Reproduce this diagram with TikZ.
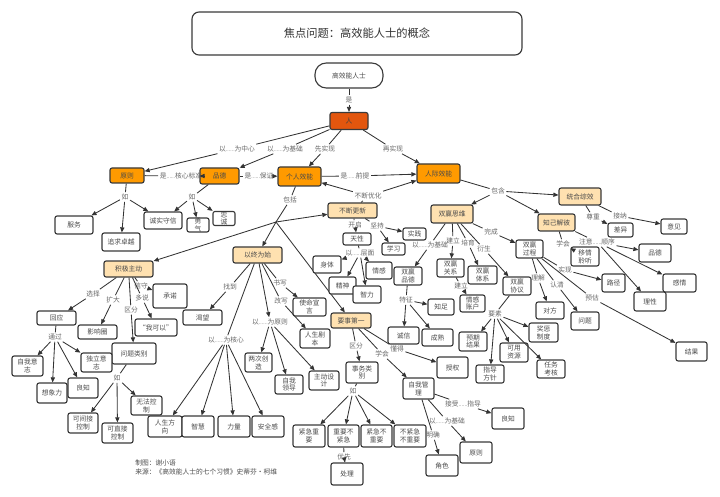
\documentclass[tikz,border=0pt]{standalone}
\usepackage{fontspec}
\setmainfont{Noto Sans CJK SC}
\usepackage{xcolor}
\usepackage{graphicx}
\usetikzlibrary{arrows.meta, positioning}
\definecolor{rencol}{HTML}{E3560E}
\definecolor{keyorange}{HTML}{FF9A00}
\definecolor{lightorange}{HTML}{FFE1B0}
\definecolor{boxline}{HTML}{3A3A3A}
\definecolor{linecol}{HTML}{333333}
\definecolor{txtgray}{HTML}{4A4A4A}
\definecolor{lblgray}{HTML}{666666}
% narrow ellipsis, as in the linking phrases
\newcommand{\elp}{\scalebox{0.6}[1]{……}}

\begin{document}
\begin{tikzpicture}[
    x=0.025cm, y=-0.025cm,
    font=\fontsize{4.8}{5.6}\selectfont,
    sz/.style 2 args={minimum width=#1*0.025cm, minimum height=#2*0.025cm},
    box/.style={
        draw=boxline, line width=0.8pt,
        rounded corners=1.5pt,
        fill=white, text=txtgray,
        align=center, inner sep=0pt
    },
    focus/.style={box, rounded corners=5pt, text=black!80,
        font=\fontsize{8}{9}\selectfont},
    root/.style={box, rounded corners=8pt},
    top/.style={box, fill=rencol, text=black!75},
    key/.style={box, fill=keyorange},
    sub/.style={box, fill=lightorange},
    lbl/.style={text=lblgray, inner sep=1pt},
    ln/.style={draw=linecol, line width=0.6pt},
    arr/.style={ln, -{Triangle[length=3.6pt,width=3pt]}},
    note/.style={text=txtgray, anchor=west, inner sep=0pt}
]
\useasboundingbox (0,0) rectangle (720,497);

% ------- title and root -------
\node[focus, sz={330}{43}] (title) at (357,33.5) {焦点问题：高效能人士的概念};
\node[root, sz={68}{25}] (gxn) at (349,75.5) {高效能人士};
\node[top, sz={38}{17}] (ren) at (349,121) {人};
\node[lbl] (lshi) at (349,100) {是};
\draw[ln] (gxn) -- (lshi);
\draw[arr] (lshi) -- (ren);

% ------- level 2 -------
\node[key, sz={34}{15}] (yuanze) at (127,175.5) {原则};
\node[key, sz={39}{16}] (pinde) at (219.5,176) {品德};
\node[key, sz={43}{19}] (geren) at (299.5,176.5) {个人效能};
\node[key, sz={43}{19}] (renji) at (438.5,173.5) {人际效能};

\node[lbl] (lzx) at (237,149) {以\elp 为中心};
\node[lbl] (ljc) at (285,149) {以\elp 为基础};
\node[lbl] (lxsx) at (325,149) {先实现};
\node[lbl] (lzsx) at (393,149) {再实现};
\draw[ln] (ren) -- (lzx);  \draw[arr] (lzx) -- (yuanze);
\draw[ln] (ren) -- (ljc);  \draw[arr] (ljc) -- (pinde);
\draw[ln] (ren) -- (lxsx); \draw[arr] (lxsx) -- (geren);
\draw[ln] (ren) -- (lzsx); \draw[arr] (lzsx) -- (renji);

\node[lbl] (lhx) at (181,176) {是\elp 核心标准};
\node[lbl] (lbz) at (259,176) {是\elp 保证};
\node[lbl] (lqt) at (355,176) {是\elp 前提};
\draw[ln] (yuanze) -- (lhx); \draw[arr] (lhx) -- (pinde);
\draw[ln] (pinde) -- (lbz);  \draw[arr] (lbz) -- (geren);
\draw[ln] (geren) -- (lqt);  \draw[arr] (lqt) -- (renji);

% ------- seven habits -------
\node[sub, sz={49}{15}] (buduan) at (352.5,210.5) {不断更新};
\node[sub, sz={42}{18}] (shuangying) at (452,214) {双赢思维};
\node[sub, sz={42}{17}] (tonghe) at (580,196.5) {统合综效};
\node[sub, sz={37}{17}] (zhiji) at (556.5,222.5) {知己解彼};
\node[sub, sz={49}{16}] (yizhong) at (257.5,255) {以终为始};
\node[sub, sz={49}{16}] (jiji) at (128.5,269) {积极主动};
\node[sub, sz={40}{15}] (yaoshi) at (351,320.5) {要事第一};

\node[lbl] (lyh) at (368,196) {不断优化};
\draw[ln] (buduan) -- (lyh);
\draw[arr] (lyh) -- (geren);
\draw[arr] (lyh) -- (renji);

\node[lbl] (lbk) at (290,200) {包括};
\coordinate (bkj) at (276,222);
\draw[ln] (geren) -- (lbk);
\draw[ln] (lbk) -- (bkj);
\draw[arr] (bkj) -- (yizhong);
\draw[arr] (bkj) -- (jiji);
\draw[arr] (bkj) -- (buduan);
\draw[arr] (bkj) -- (yaoshi);

\node[lbl] (lbh) at (498,191) {包含};
\draw[ln] (renji) -- (lbh);
\draw[arr] (lbh) -- (shuangying);
\draw[arr] (lbh) -- (tonghe);
\draw[arr] (lbh) -- (zhiji);

% ------- examples of 原则 / 品德 -------
\node[box, sz={38}{18}] (fuwu) at (74,225) {服务};
\node[box, sz={38}{18}] (zhuiqiu) at (121,242) {追求卓越};
\node[box, sz={38}{17}] (chengshi) at (163,220.5) {诚实守信};
\node[box, sz={22}{14}] (yongqi) at (198,225) {勇\\气};
\node[box, sz={22}{13}] (zhongcheng) at (224,218.5) {忠\\诚};
\node[lbl] (lru1) at (125,197) {如};
\node[lbl] (lru2) at (192,197) {如};
\draw[ln] (yuanze) -- (lru1);
\draw[arr] (lru1) -- (fuwu);
\draw[arr] (lru1) -- (zhuiqiu);
\draw[arr] (lru1) -- (chengshi);
\draw[ln] (pinde) -- (lru2);
\draw[arr] (lru2) -- (chengshi);
\draw[arr] (lru2) -- (yongqi);
\draw[arr] (lru2) -- (zhongcheng);

% ------- 积极主动 -------
\node[box, sz={39}{14}] (huiying) at (56.5,318) {回应};
\node[box, sz={39}{14}] (yingxiang) at (97.5,332) {影响圈};
\node[box, sz={34}{24}] (chengnuo) at (170,296) {承诺};
\node[box, sz={42}{17}] (woke) at (156,327.5) {“我可以”};
\node[box, sz={44}{21}] (wenti) at (134,353.5) {问题类别};
\node[lbl] (lxz) at (93,294) {选择};
\node[lbl] (lkd) at (113,300) {扩大};
\node[lbl] (lqf) at (131,310) {区分};
\node[lbl] (lxs) at (141,286) {信守};
\node[lbl] (lds) at (142,298) {多说};
\draw[ln] (jiji) -- (lxz); \draw[arr] (lxz) -- (huiying);
\draw[ln] (jiji) -- (lkd); \draw[arr] (lkd) -- (yingxiang);
\draw[ln] (jiji) -- (lqf); \draw[arr] (lqf) -- (wenti);
\draw[ln] (jiji) -- (lxs); \draw[arr] (lxs) -- (chengnuo);
\draw[ln] (jiji) -- (lds); \draw[arr] (lds) -- (woke);

\node[box, sz={31}{20}] (ziwo) at (27.5,366) {自我意\\志};
\node[box, sz={30}{20}] (xiangxiang) at (52,393) {想象力};
\node[box, sz={30}{20}] (liangzhi) at (83,388) {良知};
\node[box, sz={31}{19}] (duli) at (96.5,362.5) {独立意\\志};
\node[lbl] (ltg) at (55,337) {通过};
\draw[ln] (huiying) -- (ltg);
\draw[arr] (ltg) -- (ziwo);
\draw[arr] (ltg) -- (xiangxiang);
\draw[arr] (ltg) -- (liangzhi);
\draw[arr] (ltg) -- (duli);

\node[box, sz={30}{20}] (jianjie) at (83,423) {可间接\\控制};
\node[box, sz={31}{20}] (zhijie) at (117.5,433) {可直接\\控制};
\node[box, sz={31}{19}] (wufa) at (146.5,405.5) {无法控\\制};
\node[lbl] (lru3) at (117,378) {如};
\draw[ln] (wenti) -- (lru3);
\draw[arr] (lru3) -- (jianjie);
\draw[arr] (lru3) -- (zhijie);
\draw[arr] (lru3) -- (wufa);

% ------- 以终为始 -------
\node[box, sz={39}{15}] (kewang) at (202.5,317.5) {渴望};
\node[box, sz={33}{18}] (shiming) at (309.5,307) {使命宣\\言};
\node[box, sz={30}{19}] (juben) at (315,338.5) {人生剧\\本};
\node[lbl] (lzd) at (230,287) {找到};
\node[lbl] (lsx2) at (280,283) {书写};
\node[lbl] (lgx) at (281,301) {改写};
\draw[ln] (yizhong) -- (lzd);  \draw[arr] (lzd) -- (kewang);
\draw[ln] (yizhong) -- (lsx2); \draw[arr] (lsx2) -- (shiming);
\draw[ln] (yizhong) -- (lgx);  \draw[arr] (lgx) -- (juben);

\node[box, sz={27}{19}] (liangci) at (258.5,362.5) {两次创\\造};
\node[box, sz={28}{19}] (lingdao) at (289,384.5) {自我\\领导};
\node[box, sz={30}{19}] (sheji) at (324,380.5) {主动设\\计};
\node[lbl] (lyz) at (270,322) {以\elp 为原则};
\draw[arr] (yizhong) -- (lyz);
\draw[arr] (lyz) -- (liangci);
\draw[arr] (lyz) -- (lingdao);
\draw[arr] (lyz) -- (sheji);

\node[box, sz={34}{21}] (fangxiang) at (165,426.5) {人生方\\向};
\node[box, sz={32}{21}] (zhihui) at (198,426.5) {智慧};
\node[box, sz={32}{21}] (liliang) at (234,426.5) {力量};
\node[box, sz={32}{21}] (anquan) at (268,426.5) {安全感};
\node[lbl] (lhx2) at (226,340) {以\elp 为核心};
\draw[ln] (yizhong) -- (lhx2);
\draw[arr] (lhx2) -- (fangxiang);
\draw[arr] (lhx2) -- (zhihui);
\draw[arr] (lhx2) -- (liliang);
\draw[arr] (lhx2) -- (anquan);

% ------- 不断更新 -------
\node[box, sz={28}{12}] (tianxing) at (357,239) {天性};
\node[box, sz={23}{12}] (shijian) at (414.5,234) {实践};
\node[box, sz={23}{12}] (xuexi) at (393.5,249) {学习};
\node[lbl] (lkq) at (355,225) {开启};
\node[lbl] (ljianchi) at (377,226) {坚持};
\draw[ln] (buduan) -- (lkq);      \draw[arr] (lkq) -- (tianxing);
\draw[ln] (buduan) -- (ljianchi);
\draw[arr] (ljianchi) -- (shijian);
\draw[arr] (ljianchi) -- (xuexi);

\node[box, sz={28}{17}] (shenti) at (327,264.5) {身体};
\node[box, sz={26}{17}] (qinggan) at (379,270.5) {情感};
\node[box, sz={27}{17}] (jingshen) at (342.5,285.5) {精神};
\node[box, sz={28}{17}] (zhili) at (367,294.5) {智力};
\node[lbl] (lcm) at (360,253) {以\elp 层面};
\draw[ln] (tianxing) -- (lcm);
\draw[arr] (lcm) -- (shenti);
\draw[arr] (lcm) -- (qinggan);
\draw[arr] (lcm) -- (jingshen);
\draw[arr] (lcm) -- (zhili);

% ------- 要事第一 -------
\node[box, sz={32}{21}] (shiwu) at (362,372.5) {事务类\\别};
\node[box, sz={31}{21}] (shouquan) at (452.5,367.5) {授权};
\node[box, sz={31}{21}] (guanli) at (418.5,388.5) {自我管\\理};
\node[lbl] (lqf2) at (356,346) {区分};
\node[lbl] (lxh2) at (382,354) {学会};
\node[lbl] (ldd) at (397,349) {懂得};
\draw[ln] (yaoshi) -- (lqf2); \draw[arr] (lqf2) -- (shiwu);
\draw[ln] (yaoshi) -- (lxh2); \draw[arr] (lxh2) -- (guanli);
\draw[ln] (yaoshi) -- (ldd);  \draw[arr] (ldd) -- (shouquan);

\node[box, sz={32}{22}] (jz1) at (309,436) {紧急重\\要};
\node[box, sz={31}{22}] (jz2) at (343.5,436) {重要不\\紧急};
\node[box, sz={31}{22}] (jz3) at (376.5,436) {紧急不\\重要};
\node[box, sz={32}{22}] (jz4) at (410,436) {不紧急\\不重要};
\node[lbl] (lru4) at (353,391) {如};
\draw[ln] (shiwu) -- (lru4);
\foreach \k in {jz1,jz2,jz3,jz4}
    \draw[arr] (lru4) -- (\k);

\node[box, sz={32}{22}] (chuli) at (347,474) {处理};
\node[lbl] (lyx) at (344,457) {优先};
\draw[ln] (jz2) -- (lyx);
\draw[arr] (lyx) -- (chuli);

\node[box, sz={32}{21}] (liangzhi2) at (508,418.5) {良知};
\node[box, sz={32}{21}] (yuanze2) at (476,452.5) {原则};
\node[box, sz={32}{21}] (juese) at (442,465.5) {角色};
\node[lbl] (ljs) at (463,404) {接受\elp 指导};
\node[lbl] (ljc3) at (447,421) {以\elp 为基础};
\node[lbl] (lmq) at (433,435) {明确};
\draw[ln] (guanli) -- (ljs);  \draw[arr] (ljs) -- (liangzhi2);
\draw[ln] (guanli) -- (ljc3); \draw[arr] (ljc3) -- (yuanze2);
\draw[ln] (guanli) -- (lmq);  \draw[arr] (lmq) -- (juese);

% ------- 双赢思维 -------
\node[box, sz={28}{18}] (sypd) at (408,276) {双赢\\品德};
\node[box, sz={27}{18}] (sygx) at (450.5,268) {双赢\\关系};
\node[box, sz={29}{18}] (sytx) at (482.5,275) {双赢\\体系};
\node[box, sz={28}{18}] (syxy) at (517,286) {双赢\\协议};
\node[box, sz={27}{18}] (sygc) at (529.5,249) {双赢\\过程};
\node[lbl] (ljc2) at (430,245) {以\elp 为基础};
\node[lbl] (ljl1) at (453,241) {建立};
\node[lbl] (lpy) at (468,243) {培育};
\node[lbl] (lys) at (484,249) {衍生};
\node[lbl] (lwc) at (491,232) {完成};
\draw[ln] (shuangying) -- (ljc2); \draw[arr] (ljc2) -- (sypd);
\draw[ln] (shuangying) -- (ljl1); \draw[arr] (ljl1) -- (sygx);
\draw[ln] (shuangying) -- (lpy);  \draw[arr] (lpy) -- (sytx);
\draw[ln] (shuangying) -- (lys);  \draw[arr] (lys) -- (syxy);
\draw[ln] (shuangying) -- (lwc);  \draw[arr] (lwc) -- (sygc);

\node[box, sz={25}{17}] (zhanghu) at (472.5,303.5) {情感\\账户};
\node[lbl] (ljl2) at (461,286) {建立};
\draw[ln] (sygx) -- (ljl2);
\draw[arr] (ljl2) -- (zhanghu);

\node[box, sz={26}{16}] (zhizu) at (441,307) {知足};
\node[box, sz={31}{17}] (chengxin) at (403.5,335.5) {诚信};
\node[box, sz={31}{17}] (chengshu) at (437.5,337.5) {成熟};
\node[lbl] (ltz) at (406,300) {特征};
\draw[ln] (sypd) -- (ltz);
\draw[arr] (ltz) -- (zhizu);
\draw[arr] (ltz) -- (chengxin);
\draw[arr] (ltz) -- (chengshu);

\node[box, sz={28}{19}] (yuqi) at (473,341.5) {预期\\结果};
\node[box, sz={28}{18}] (fangzhen) at (490,374) {指导\\方针};
\node[box, sz={28}{19}] (ziyuan) at (514,352.5) {可用\\资源};
\node[box, sz={29}{19}] (jiangcheng) at (543.5,332.5) {奖惩\\制度};
\node[box, sz={28}{18}] (kaohe) at (551,369) {任务\\考核};
\node[lbl] (lysu) at (495,314) {要素};
\draw[ln] (syxy) -- (lysu);
\foreach \k in {yuqi,fangzhen,ziyuan,jiangcheng,kaohe}
    \draw[arr] (lysu) -- (\k);

\node[box, sz={28}{17}] (duifang) at (550,310.5) {对方};
\node[box, sz={28}{18}] (wenti2) at (585,321) {问题};
\node[box, sz={23}{18}] (lujing) at (613.5,283) {路径};
\node[box, sz={31}{19}] (jieguo) at (691.5,351.5) {结果};
\node[lbl] (llj) at (538,278) {理解};
\node[lbl] (lrq) at (557,285) {认清};
\node[lbl] (lsx) at (565,270) {实现};
\node[lbl] (lyg) at (592,298) {预估};
\draw[ln] (sygc) -- (llj); \draw[arr] (llj) -- (duifang);
\draw[ln] (sygc) -- (lrq); \draw[arr] (lrq) -- (wenti2);
\draw[ln] (sygc) -- (lsx); \draw[arr] (lsx) -- (lujing);
\draw[ln] (sygc) -- (lyg); \draw[arr] (lyg) -- (jieguo);

% ------- 知己解彼 / 统合综效 -------
\node[box, sz={28}{19}] (yiqing) at (585,256.5) {移情\\聆听};
\node[box, sz={32}{18}] (pinde2) at (655,253) {品德};
\node[box, sz={33}{18}] (ganqing) at (679.5,283) {感情};
\node[box, sz={32}{19}] (lixing) at (650,301.5) {理性};
\node[lbl] (lxh) at (563,244) {学会};
\node[lbl] (lzysx) at (597,242) {注意\elp 顺序};
\draw[ln] (zhiji) -- (lxh);   \draw[arr] (lxh) -- (yiqing);
\draw[ln] (zhiji) -- (lzysx);
\draw[arr] (lzysx) -- (pinde2);
\draw[arr] (lzysx) -- (ganqing);
\draw[arr] (lzysx) -- (lixing);

\node[box, sz={25}{14}] (chayi) at (620.5,230) {差异};
\node[box, sz={26}{15}] (yijian) at (674,226.5) {意见};
\node[lbl] (lzz) at (593,217) {尊重};
\node[lbl] (ljn) at (620,216) {接纳};
\draw[ln] (tonghe) -- (lzz); \draw[arr] (lzz) -- (chayi);
\draw[ln] (tonghe) -- (ljn); \draw[arr] (ljn) -- (yijian);

% ------- source -------
\node[note] (credit) at (135,463) {制图：谢小语};
\node[note] (source) at (135,471.5) {来源：《高效能人士的七个习惯》史蒂芬·柯维};
\end{tikzpicture}
\end{document}
